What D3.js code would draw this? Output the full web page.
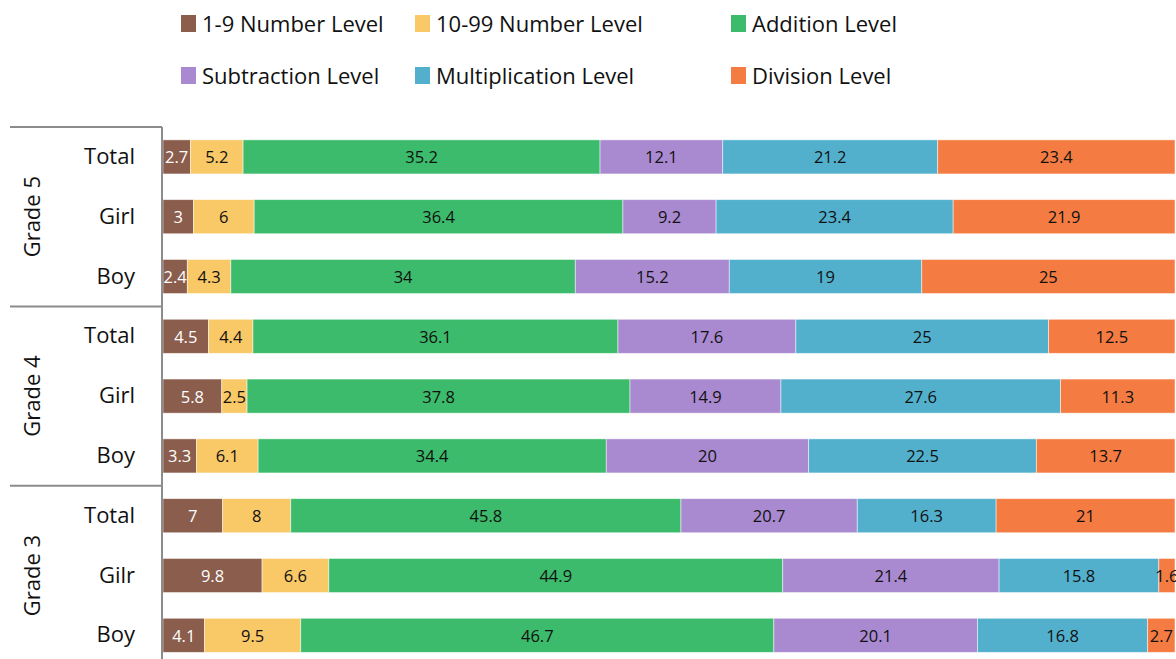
<!DOCTYPE html>
<html>
<head>
<meta charset="utf-8">
<script src="https://cdn.jsdelivr.net/npm/d3@7/dist/d3.min.js"></script>
<style>
  html, body { margin: 0; padding: 0; background: #fff; }
  svg { display: block; font-family: "Open Sans", "DejaVu Sans", sans-serif; }
</style>
</head>
<body>
<svg id="chart" width="1176" height="659"></svg>
<script>
// Levels (stack order, left to right)
const levels = ["1-9 Number Level", "10-99 Number Level", "Addition Level",
                "Subtraction Level", "Multiplication Level", "Division Level"];
const levelColors = ["#8a5d4c", "#f9c867", "#3bbb6b", "#a98ad0", "#52b0cd", "#f47c43"];

// Row groups and sub-categories (top to bottom)
const grades = ["Grade 5", "Grade 4", "Grade 3"];
const subLabels = [
  ["Total", "Girl", "Boy"],
  ["Total", "Girl", "Boy"],
  ["Total", "Gilr", "Boy"]
];

// Percentages per level, one entry per row (top to bottom)
const numbers1to9   = [2.7, 3.0, 2.4, 4.5, 5.8, 3.3, 7.0, 9.8, 4.1];
const numbers10to99 = [5.2, 6.0, 4.3, 4.4, 2.5, 6.1, 8.0, 6.6, 9.5];
const addition      = [35.2, 36.4, 34.0, 36.1, 37.8, 34.4, 45.8, 44.9, 46.7];
const subtraction   = [12.1, 9.2, 15.2, 17.6, 14.9, 20.0, 20.7, 21.4, 20.1];
const multiplication= [21.2, 23.4, 19.0, 25.0, 27.6, 22.5, 16.3, 15.8, 16.8];
const division      = [23.4, 21.9, 25.0, 12.5, 11.3, 13.7, 21.0, 1.6, 2.7];

const seriesValues = [numbers1to9, numbers10to99, addition, subtraction, multiplication, division];

// Build row records for d3.stack
const rows = [];
grades.forEach((g, gi) => {
  subLabels[gi].forEach((s, si) => {
    const idx = gi * 3 + si;
    const rec = { id: g + "|" + s, grade: g, sub: s };
    levels.forEach((lv, li) => { rec[lv] = seriesValues[li][idx]; });
    rows.push(rec);
  });
});

const svg = d3.select("#chart");

const plotLeft = 163, plotRight = 1175, plotTop = 127;
const step = 59.8;
const plotBottom = plotTop + step * rows.length;

// 100% stacked: each row is normalised to its own total
const x = d3.scaleLinear().domain([0, 1]).range([plotLeft, plotRight]);
const y = d3.scaleBand().domain(rows.map(r => r.id))
  .range([plotTop, plotBottom]).paddingInner(0.43).paddingOuter(0.215);

const stacked = d3.stack().keys(levels).offset(d3.stackOffsetExpand)(rows);

const gBars = svg.append("g");
stacked.forEach((layer, li) => {
  const g = gBars.append("g").attr("fill", levelColors[li]);
  g.selectAll("rect").data(layer).join("rect")
    .attr("x", d => x(d[0]))
    .attr("y", d => y(d.data.id))
    .attr("width", d => x(d[1]) - x(d[0]))
    .attr("height", y.bandwidth())
    .attr("stroke", "rgba(255,255,255,0.6)")
    .attr("stroke-width", 0.8);
  g.selectAll("text").data(layer).join("text")
    .attr("x", d => (x(d[0]) + x(d[1])) / 2)
    .attr("y", d => y(d.data.id) + y.bandwidth() / 2)
    .attr("text-anchor", "middle")
    .attr("dominant-baseline", "central")
    .attr("font-size", 16.5)
    .attr("fill", li === 0 ? "#ffffff" : "#111111")
    .text(d => d3.format("~g")(d.data[levels[li]]));
});

// Left axis: vertical line plus group separators
const axisColor = "#8c8c8c";
const gAxis = svg.append("g");
gAxis.append("line")
  .attr("x1", plotLeft - 1).attr("x2", plotLeft - 1)
  .attr("y1", plotTop).attr("y2", plotBottom)
  .attr("stroke", axisColor).attr("stroke-width", 2);

grades.forEach((g, gi) => {
  const yTop = plotTop + gi * 3 * step;
  gAxis.append("line")
    .attr("x1", 10).attr("x2", plotLeft - 1)
    .attr("y1", yTop).attr("y2", yTop)
    .attr("stroke", axisColor).attr("stroke-width", 2);
  const yMid = y(rows[gi * 3 + 1].id) + y.bandwidth() / 2;
  gAxis.append("text")
    .attr("transform", `translate(31,${yMid}) rotate(-90)`)
    .attr("text-anchor", "middle")
    .attr("dominant-baseline", "central")
    .attr("font-size", 22)
    .attr("fill", "#111")
    .text(g);
});

gAxis.selectAll("text.sub").data(rows).join("text")
  .attr("class", "sub")
  .attr("x", 135)
  .attr("y", d => y(d.id) + y.bandwidth() / 2 - 2)
  .attr("text-anchor", "end")
  .attr("dominant-baseline", "central")
  .attr("font-size", 22)
  .attr("fill", "#111")
  .text(d => d.sub);

// Legend, two rows of three
const legendCols = [181, 415, 731];
const legendRows = [23, 75];
const gLeg = svg.append("g");
levels.forEach((lv, i) => {
  const cx = legendCols[i % 3], cy = legendRows[Math.floor(i / 3)];
  gLeg.append("rect")
    .attr("x", cx).attr("y", cy - 8)
    .attr("width", 15).attr("height", 17)
    .attr("fill", levelColors[i]);
  gLeg.append("text")
    .attr("x", cx + 21).attr("y", cy)
    .attr("dominant-baseline", "central")
    .attr("font-size", 22)
    .attr("fill", "#111")
    .text(lv);
});
</script>
</body>
</html>
